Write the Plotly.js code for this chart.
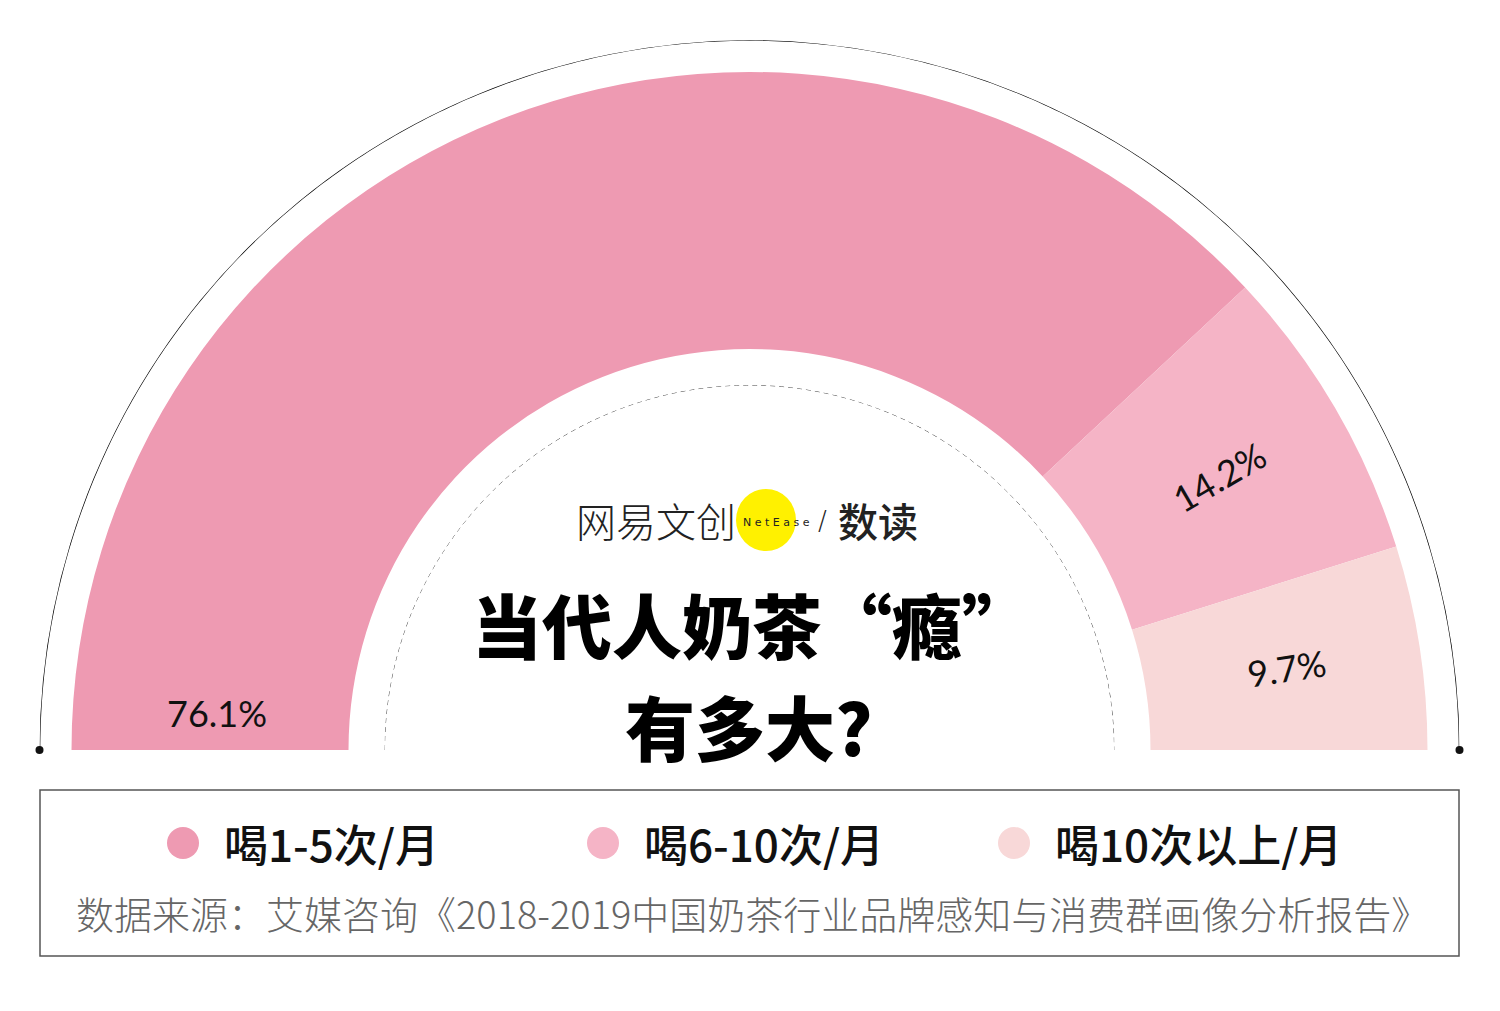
<!DOCTYPE html>
<html>
<head>
<meta charset="utf-8">
<script src="https://cdn.plot.ly/plotly-3.0.1.min.js"></script>
<style>html,body{margin:0;padding:0;background:#fff;}#chart{width:1500px;height:1011px;}</style>
</head>
<body>
<div id="chart"></div>
<script>
// ---- data ----
const categories = ['喝1-5次/月', '喝6-10次/月', '喝10次以上/月'];
const shares = [76.1, 14.2, 9.7];
const sliceColors = ['#EE9AB2', '#F5B4C6', '#F8D8D8'];
const titleLines = ['当代人奶茶“瘾”', '有多大?'];
const sourceText = '数据来源：艾媒咨询《2018-2019中国奶茶行业品牌感知与消费群画像分析报告》';

// ---- geometry helpers (pixels -> paper) ----
const W = 1500, H = 1011;
const px = x => x / W;
const py = y => 1 - y / H;
const CX = 749.5, CY = 750;       // centre of the half ring
const R_LINE = 710, R_OUT = 678, R_IN = 401, R_DASH = 365;

// angular positions from shares (half circle = 100%)
const total = shares.reduce((a, b) => a + b, 0);
const widths = shares.map(s => s / total * 180);
const centers = [];
let acc = 0;
widths.forEach(w => { centers.push(acc + w / 2); acc += w; });

const ringTrace = {
  type: 'barpolar',
  subplot: 'polar',
  theta: centers,
  width: widths,
  base: shares.map(() => R_IN),
  r: shares.map(() => R_OUT - R_IN),
  marker: { color: sliceColors, line: { width: 0 } },
  hoverinfo: 'skip',
  showlegend: false
};
const arcTheta = [];
for (let t = 0; t <= 180; t += 0.5) arcTheta.push(t);
const outerArc = {
  type: 'scatterpolar',
  subplot: 'polar',
  mode: 'lines',
  theta: arcTheta,
  r: arcTheta.map(() => R_LINE),
  line: { color: '#000', width: 1.6 },
  cliponaxis: false,
  hoverinfo: 'skip',
  showlegend: false
};
const endDots = {
  type: 'scatterpolar',
  subplot: 'polar',
  mode: 'markers',
  theta: [0, 180],
  r: [R_LINE, R_LINE],
  marker: { color: '#111', size: 8 },
  cliponaxis: false,
  hoverinfo: 'skip',
  showlegend: false
};
const dashArc = {
  type: 'scatterpolar',
  subplot: 'polar2',
  mode: 'lines',
  theta: arcTheta,
  r: arcTheta.map(() => 1),
  line: { color: '#333', width: 1, dash: '5px,4px' },
  cliponaxis: false,
  hoverinfo: 'skip',
  showlegend: false
};

const hiddenAngular = { rotation: 180, direction: 'clockwise', showgrid: false, showticklabels: false, ticks: '', showline: false };

// ---- annotations ----
const annotations = [];
// percentage labels
shares.forEach((s, i) => {
  let ang, r;
  if (i === 0) { ang = 4; r = 534; }
  else { ang = centers[i]; r = 543; }
  const a = (180 - ang) * Math.PI / 180; // screen angle from right
  const x = CX + r * Math.cos(a), y = CY - r * Math.sin(a);
  annotations.push({
    xref: 'paper', yref: 'paper', x: px(x), y: py(y), xanchor: 'center', yanchor: 'middle',
    text: s.toFixed(1) + '%', showarrow: false,
    textangle: i === 0 ? 0 : -(180 - centers[i]),
    font: { family: 'Lato, "Open Sans", sans-serif', size: 36, color: '#111' }
  });
});

// title
annotations.push({
  xref: 'paper', yref: 'paper', x: px(752), y: py(623), xanchor: 'center', yanchor: 'middle',
  text: titleLines[0], showarrow: false,
  font: { family: '"Noto Sans CJK SC", sans-serif', size: 70, color: '#000', weight: 900 }
});
annotations.push({
  xref: 'paper', yref: 'paper', x: px(749), y: py(725), xanchor: 'center', yanchor: 'middle',
  text: titleLines[1], showarrow: false,
  font: { family: '"Noto Sans CJK SC", sans-serif', size: 70, color: '#000', weight: 900 }
});
// logo
annotations.push({
  xref: 'paper', yref: 'paper', x: px(738), y: py(520), xanchor: 'right', yanchor: 'middle',
  text: '网易文创', showarrow: false,
  font: { family: '"Noto Sans CJK SC", sans-serif', size: 40, color: '#222', weight: 300 }
});
annotations.push({
  xref: 'paper', yref: 'paper', x: px(776), y: py(522), xanchor: 'center', yanchor: 'middle',
  text: 'N e t E a s e', showarrow: false,
  font: { family: '"DejaVu Sans", sans-serif', size: 11, color: '#222' }
});
annotations.push({
  xref: 'paper', yref: 'paper', x: px(822), y: py(521), xanchor: 'center', yanchor: 'middle',
  text: '/', showarrow: false,
  font: { family: '"DejaVu Sans", sans-serif', size: 26, color: '#222', weight: 300 }
});
annotations.push({
  xref: 'paper', yref: 'paper', x: px(836), y: py(520), xanchor: 'left', yanchor: 'middle',
  text: '数读', showarrow: false,
  font: { family: '"Noto Sans CJK SC", sans-serif', size: 40, color: '#222', weight: 500 }
});

// legend
const legendDotX = [183, 603, 1014];
const shapes = [];
categories.forEach((c, i) => {
  const d = 16;
  shapes.push({
    type: 'circle', xref: 'paper', yref: 'paper',
    x0: px(legendDotX[i] - d), x1: px(legendDotX[i] + d), y0: py(843 + d), y1: py(843 - d),
    fillcolor: sliceColors[i], line: { width: 0 }
  });
  annotations.push({
    xref: 'paper', yref: 'paper', x: px(legendDotX[i] + 39), y: py(843), xanchor: 'left', yanchor: 'middle',
    text: c, showarrow: false,
    font: { family: '"Noto Sans CJK SC", sans-serif', size: 44, color: '#111', weight: 500 }
  });
});
annotations.push({
  xref: 'paper', yref: 'paper', x: px(752), y: py(912), xanchor: 'center', yanchor: 'middle',
  text: sourceText, showarrow: false,
  font: { family: '"Noto Sans CJK SC", sans-serif', size: 38, color: '#666', weight: 300 }
});
// legend box
shapes.push({
  type: 'rect', xref: 'paper', yref: 'paper',
  x0: px(40), x1: px(1459), y0: py(956), y1: py(790),
  line: { color: '#555', width: 1.5 }, fillcolor: 'rgba(0,0,0,0)'
});
// logo yellow circle
shapes.push({
  type: 'circle', xref: 'paper', yref: 'paper', layer: 'below',
  x0: px(766 - 30), x1: px(766 + 30), y0: py(520 + 31), y1: py(520 - 31),
  fillcolor: '#FFF100', line: { width: 0 }
});

const layout = {
  width: W, height: H,
  margin: { l: 0, r: 0, t: 0, b: 0 },
  paper_bgcolor: '#fff',
  showlegend: false,
  polar: {
    domain: { x: [px(CX - R_LINE), px(CX + R_LINE)], y: [py(CY), py(CY - R_LINE)] },
    sector: [0, 180],
    bgcolor: 'rgba(0,0,0,0)',
    radialaxis: { visible: false, range: [0, R_LINE] },
    angularaxis: hiddenAngular
  },
  polar2: {
    domain: { x: [px(CX - R_DASH), px(CX + R_DASH)], y: [py(CY), py(CY - R_DASH)] },
    sector: [0, 180],
    bgcolor: 'rgba(0,0,0,0)',
    radialaxis: { visible: false, range: [0, 1] },
    angularaxis: hiddenAngular
  },
  shapes: shapes,
  annotations: annotations
};

Plotly.newPlot('chart', [ringTrace, outerArc, endDots, dashArc], layout, { displayModeBar: false, staticPlot: true });
</script>
</body>
</html>
